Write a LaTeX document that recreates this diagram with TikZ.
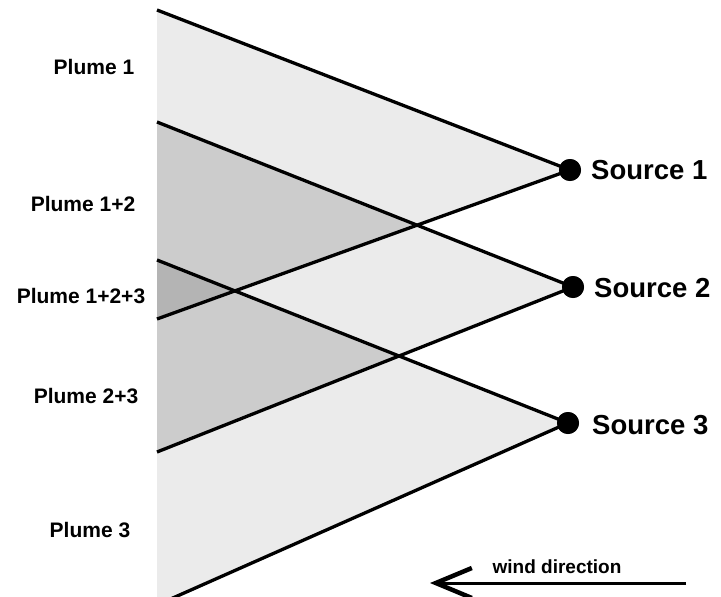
\documentclass[tikz,border=0pt]{standalone}
\usepackage{fontspec}
\setmainfont{Liberation Sans}
\usetikzlibrary{arrows.meta}
\definecolor{lightg}{HTML}{EBEBEB}
\definecolor{midg}{HTML}{CCCCCC}
\definecolor{darkg}{HTML}{B4B4B4}
\begin{document}
\begin{tikzpicture}[x=1pt,y=-1pt,
  plumeline/.style={line width=3.3pt,black},
  srcdot/.style={circle,fill=black,minimum size=22pt,inner sep=0pt},
  plumelabel/.style={font=\fontsize{21}{24}\selectfont\bfseries,inner sep=0pt},
  srclabel/.style={font=\fontsize{27.5}{30}\selectfont\bfseries,anchor=west,inner sep=0pt},
  windlabel/.style={font=\fontsize{19}{22}\selectfont\bfseries,inner sep=0pt}]
\useasboundingbox (0,0) rectangle (721,597);
\clip (0,0) rectangle (721,597);
\coordinate (s1) at (570,170);
\coordinate (s2) at (573,287);
\coordinate (s3) at (568,423);
\coordinate (a1) at (157,10);
\coordinate (b1) at (157,319);
\coordinate (a2) at (157,122);
\coordinate (b2) at (157,452);
\coordinate (a3) at (157,260);
\coordinate (b3) at (157,605);
% fills
\fill[lightg] (a1)--(s1)--(b1)--cycle;
\fill[lightg] (a2)--(s2)--(b2)--cycle;
\fill[lightg] (a3)--(s3)--(b3)--cycle;
\begin{scope}
  \clip (a1)--(s1)--(b1)--cycle;
  \fill[midg] (a2)--(s2)--(b2)--cycle;
\end{scope}
\begin{scope}
  \clip (a2)--(s2)--(b2)--cycle;
  \fill[midg] (a3)--(s3)--(b3)--cycle;
\end{scope}
\begin{scope}
  \clip (a1)--(s1)--(b1)--cycle;
  \clip (a3)--(s3)--(b3)--cycle;
  \fill[darkg] (0,0) rectangle (721,597);
\end{scope}
% sources
\node[srcdot] (src1) at (s1) {};
\node[srcdot] (src2) at (s2) {};
\node[srcdot] (src3) at (s3) {};
% plume edges
\draw[plumeline] (a1) -- (src1.center);
\draw[plumeline] (b1) -- (src1.center);
\draw[plumeline] (a2) -- (src2.center);
\draw[plumeline] (b2) -- (src2.center);
\draw[plumeline] (a3) -- (src3.center);
\draw[plumeline] (b3) -- (src3.center);
\node[srcdot] at (s1) {};
\node[srcdot] at (s2) {};
\node[srcdot] at (s3) {};
% labels
\node[srclabel] (l1) at (591,170) {Source 1};
\node[srclabel] (l2) at (594,288) {Source 2};
\node[srclabel] (l3) at (592,425) {Source 3};
\node[plumelabel] (p1) at (94,67) {Plume 1};
\node[plumelabel] (p12) at (83,204) {Plume 1+2};
\node[plumelabel] (p123) at (81,296) {Plume 1+2+3};
\node[plumelabel] (p23) at (86,396) {Plume 2+3};
\node[plumelabel] (p3) at (90,530) {Plume 3};
% wind
\coordinate (w1) at (686,583);
\coordinate (w2) at (430,583);
\draw[line width=3pt,-{Straight Barb[length=36pt,width=30pt,line width=4.5pt]}] (w1) -- (w2);
\node[windlabel] (wl) at (557,567) {wind direction};
\end{tikzpicture}
\end{document}
